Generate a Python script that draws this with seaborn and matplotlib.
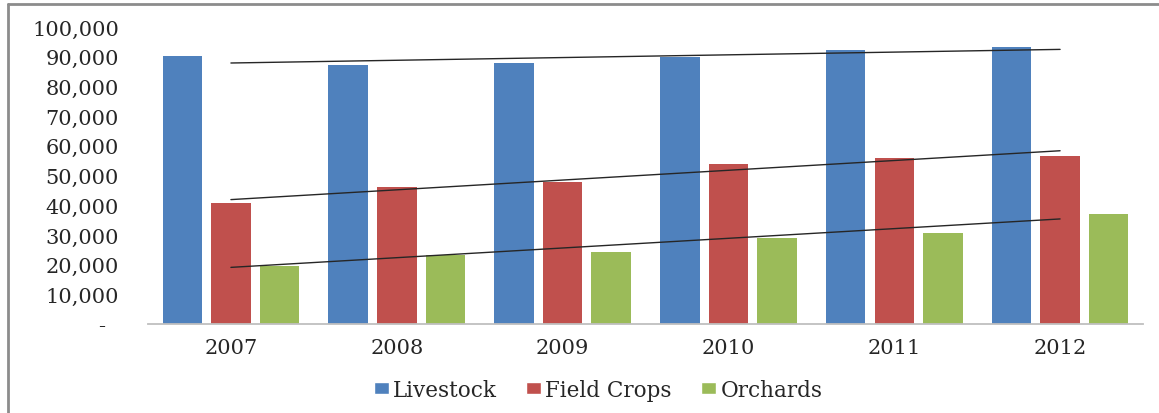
import numpy as np
import pandas as pd
import matplotlib.pyplot as plt
import seaborn as sns
from matplotlib.patches import Patch
from matplotlib.lines import Line2D
from matplotlib.ticker import FuncFormatter

# ----------------------------
# Data
# ----------------------------
years = ["2007", "2008", "2009", "2010", "2011", "2012"]
livestock = [90300, 87300, 88000, 90100, 92300, 93300]
field_crops = [40700, 46100, 47700, 53800, 55800, 56700]
orchards = [19600, 23200, 24100, 28900, 30500, 37100]
series = ["Livestock", "Field Crops", "Orchards"]
colors = ["#4F81BD", "#C0504D", "#9BBB59"]

df = pd.DataFrame({
    "Year": years * 3,
    "Value": livestock + field_crops + orchards,
    "Type": np.repeat(series, len(years)),
})

sns.set_style("white")
plt.rcParams["font.family"] = ["DejaVu Serif"]
FS = 15

fig = plt.figure(figsize=(11.59, 4.14), dpi=100)
ax = fig.add_axes([0.1277, 0.215, 0.8585, 0.717])

sns.barplot(data=df, x="Year", y="Value", hue="Type", hue_order=series,
            palette=colors, saturation=1, width=0.878, gap=0.186,
            linewidth=0, errorbar=None, legend=False, ax=ax)

# ----------------------------
# Linear trend lines
# ----------------------------
x = np.arange(len(years))
for vals in [livestock, field_crops, orchards]:
    k, b = np.polyfit(x, vals, 1)
    ax.plot([x[0], x[-1]], [k * x[0] + b, k * x[-1] + b], color="#262626", lw=1)

# ----------------------------
# Axes styling
# ----------------------------
ax.set_xlim(-0.5, len(years) - 0.5)
ax.set_ylim(0, 100000)
ax.set_yticks(range(0, 100001, 10000))
ax.yaxis.set_major_formatter(FuncFormatter(lambda v, p: "-  " if v == 0 else f"{v:,.0f}"))
ax.set_xlabel("")
ax.set_ylabel("")
for s in ["top", "right", "left"]:
    ax.spines[s].set_visible(False)
ax.spines["bottom"].set_color("#BFBFBF")
ax.spines["bottom"].set_linewidth(1.3)
ax.tick_params(axis="y", length=0, pad=21, labelsize=FS)
ax.tick_params(axis="x", length=0, pad=10, labelsize=FS)

# ----------------------------
# Legend
# ----------------------------
handles = [Patch(facecolor=c) for c in colors]
fig.legend(handles, series, loc="center", bbox_to_anchor=(0.516, 0.056),
           ncol=3, frameon=False, handlelength=0.7, handleheight=0.5,
           handletextpad=0.2, columnspacing=1.35, fontsize=15.5)

# ----------------------------
# Chart frame (left and top border)
# ----------------------------
fig.add_artist(Line2D([7.5 / 1159, 7.5 / 1159], [0, 1 - 4.5 / 414],
                      color="#8C8C8C", lw=2))
fig.add_artist(Line2D([7.5 / 1159, 1], [1 - 4.5 / 414, 1 - 4.5 / 414],
                      color="#8C8C8C", lw=2))

fig.savefig("out.png", dpi=100)
